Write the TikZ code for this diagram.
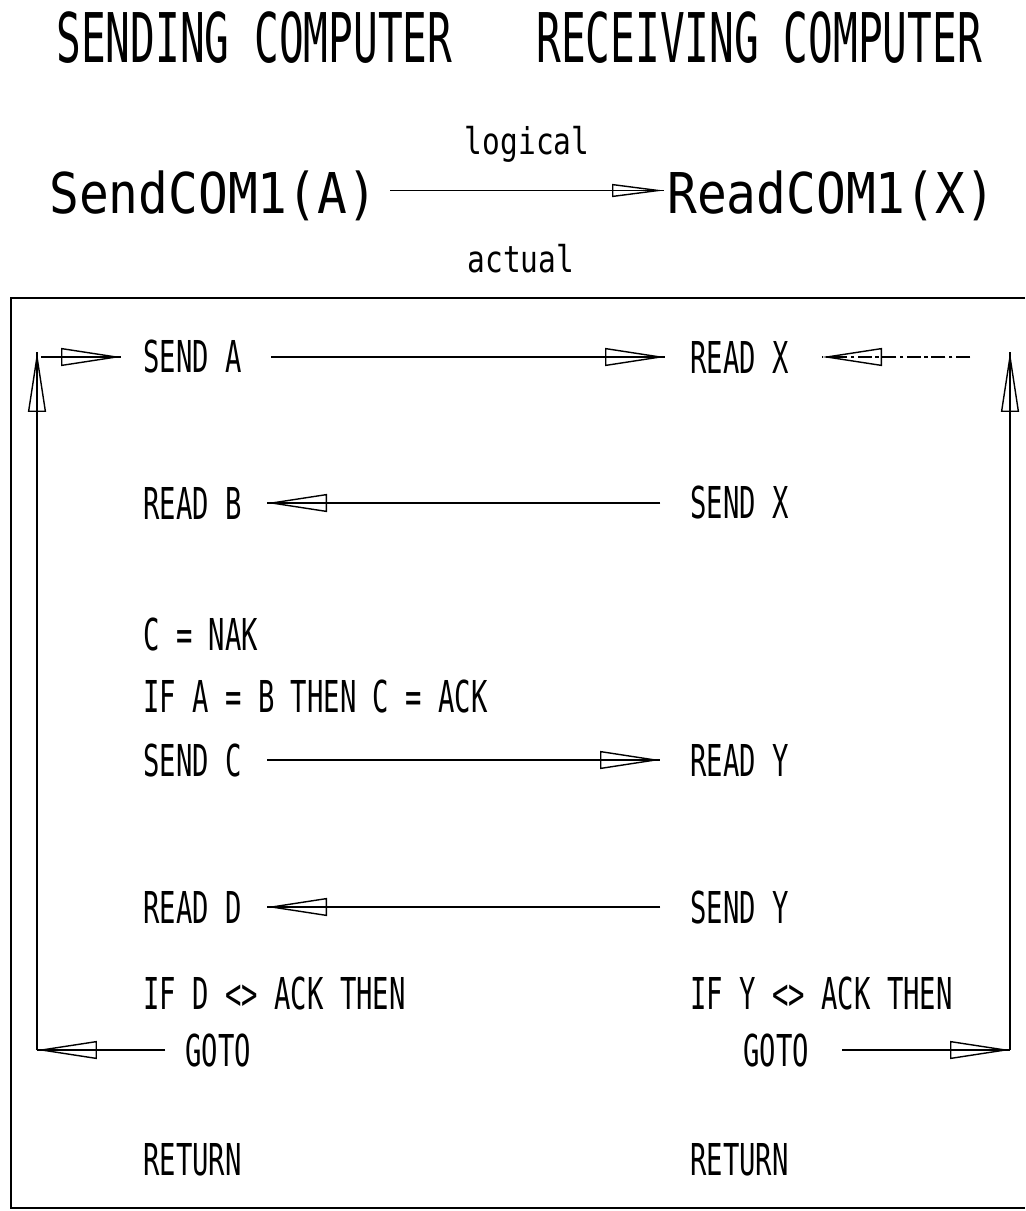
\documentclass[tikz,border=0pt]{standalone}
\usepackage{fontspec}
\usetikzlibrary{arrows.meta}
\newfontfamily\plotfont[FakeStretch=0.62]{DejaVu Sans Mono}
\newfontfamily\plothead[FakeStretch=0.60]{DejaVu Sans Mono}
\newfontfamily\plotwide[FakeStretch=0.88]{DejaVu Sans Mono}
\newfontfamily\plotnote[FakeStretch=0.80]{DejaVu Sans Mono}

\begin{document}
\begin{tikzpicture}[x=0.02cm, y=-0.02cm,
    txt/.style={anchor=west, inner sep=0pt, font=\plotfont\fontsize{25}{30}\selectfont},
    head/.style={anchor=west, inner sep=0pt, font=\plothead\fontsize{39}{45}\selectfont},
    call/.style={anchor=base west, inner sep=0pt, font=\plotwide\fontsize{32}{38}\selectfont},
    note/.style={anchor=base, inner sep=0pt, font=\plotnote\fontsize{21}{25}\selectfont},
    flow/.style={line width=0.8pt, postaction={draw, -{Triangle[open,length=1.2cm,width=0.36cm]}}},
    flowsmall/.style={line width=0.8pt, postaction={draw, -{Triangle[open,length=1.04cm,width=0.26cm]}}}]
    \useasboundingbox (0,0) rectangle (1025,1211);

    % headings
    \node[head] (sendhead) at (56,38) {SENDING COMPUTER};
    \node[head] (recvhead) at (536,38) {RECEIVING COMPUTER};

    \node[call] (sendcom) at (49,213) {SendCOM1(A)};
    \node[call] (readcom) at (667,213) {ReadCOM1(X)};
    \draw[flowsmall] ([xshift=0.26cm,yshift=0.45cm]sendcom.base east) -- ([xshift=-0.06cm,yshift=0.45cm]readcom.base west) node[note, midway, above=0.55cm] (logical) {logical};
    \node[note] (actual) at (521,272) {actual};

    % frame
    \draw[line width=1pt] (1025,298) -- (11,298) -- (11,1208) -- (1025,1208);

    % sending side
    \node[txt] (sendA) at (143,357) {SEND A};
    \node[txt] (readB) at (143,503) {READ B};
    \node[txt] (cnak) at (143,634) {C = NAK};
    \node[txt] (ifab) at (143,696) {IF A = B THEN C = ACK};
    \node[txt] (sendC) at (143,760) {SEND C};
    \node[txt] (readD) at (143,907) {READ D};
    \node[txt] (ifD) at (143,993) {IF D <> ACK THEN};
    \node[txt] (gotoL) at (185,1050) {GOTO};
    \node[txt] (retL) at (143,1160) {RETURN};

    % receiving side
    \node[txt] (readX) at (690,357) {READ X};
    \node[txt] (sendX) at (690,503) {SEND X};
    \node[txt] (readY) at (690,760) {READ Y};
    \node[txt] (sendY) at (690,907) {SEND Y};
    \node[txt] (ifY) at (690,993) {IF Y <> ACK THEN};
    \node[txt] (gotoR) at (743,1050) {GOTO};
    \node[txt] (retR) at (690,1160) {RETURN};

    % exchanges
    \draw[flow] ([xshift=0.58cm]sendA.east) -- ([xshift=-0.5cm]readX.west);
    \draw[flow] ([xshift=-0.6cm]sendX.west) -- ([xshift=0.5cm]readB.east);
    \draw[flow] ([xshift=0.5cm]sendC.east) -- ([xshift=-0.6cm]readY.west);
    \draw[flow] ([xshift=-0.6cm]sendY.west) -- ([xshift=0.5cm]readD.east);

    % retry loops
    \coordinate (cornerL) at (37,1050);
    \coordinate (topL) at (37,352);
    \coordinate (startL) at (41,357);
    \coordinate (cornerR) at (1010,1050);
    \coordinate (topR) at (1010,352);
    \coordinate (startR) at (970,357);
    \draw[flow] ([xshift=-0.4cm]gotoL.west) -- (cornerL);
    \draw[flow] (cornerL) -- (topL);
    \draw[flow] (startL) -- ([xshift=-0.44cm]sendA.west);
    \draw[flow] ([xshift=0.66cm]gotoR.east) -- (cornerR);
    \draw[flow] (cornerR) -- (topR);
    \draw[flow, dash pattern=on 8pt off 2pt on 2pt off 2pt] (startR) -- ([xshift=0.66cm]readX.east);

\end{tikzpicture}
\end{document}
